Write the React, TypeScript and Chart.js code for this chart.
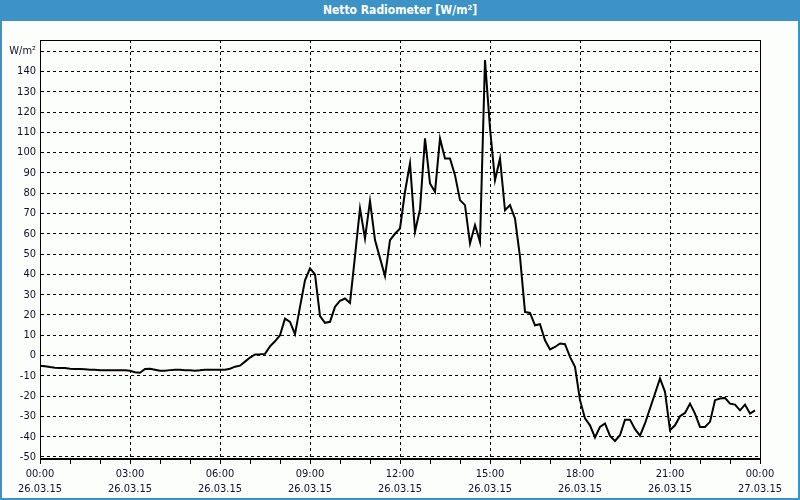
import React, { useEffect, useRef } from "react";
import { Chart, registerables } from "chart.js";

Chart.register(...registerables);

const chartTitle = "Netto Radiometer [W/m²]";
const unitLabel = "W/m²";

// one reading every 10 minutes, 00:00 .. 23:50 on 26.03.15
const stepMinutes = 10;
const radiation = [
  -5, -5.3, -5.7, -6, -6.2, -6.2, -6.5, -6.6, -6.7, -6.8, -7, -7,
  -7.2, -7.2, -7.2, -7.3, -7.3, -7.3, -7.5, -8.2, -8.5, -6.6, -6.5, -7,
  -7.5, -7.5, -7.2, -7, -7, -7.2, -7.3, -7.5, -7.3, -7, -7, -7,
  -7, -7, -6.5, -5.5, -5, -3, -1, 0.5, 0.6, 0.8, 4.5, 7,
  10, 18.2, 16.6, 10.5, 24, 37.1, 42.9, 40, 19.4, 16.1, 16.6, 24,
  27, 28.1, 25.9, 49, 72.5, 57.7, 76.2, 56.9, 48, 39.1, 56.9, 60,
  62.6, 80.7, 94.7, 61, 72, 107, 84.8, 80.7, 107, 97.1, 97.1, 88.9,
  76.6, 74.1, 55.2, 64.3, 56, 145.6, 112, 86.4, 97.1, 71.6, 74.1, 67.5,
  48.6, 21.5, 21, 14.9, 15.4, 7.5, 3, 4.2, 5.9, 5.6, -0.7, -5.6,
  -22, -31, -34.4, -40.4, -35.2, -33.5, -39.6, -42.1, -39.3, -31.6, -31.6, -36.3,
  -39.5, -33.5, -26.1, -18.7, -11.3, -17.9, -36.8, -34.4, -29.9, -28.3, -23.7, -28.6,
  -35.2, -35.2, -32.7, -22, -21.2, -20.9, -23.7, -24.2, -27, -24.2, -28.6, -27,
];

// x axis in minutes since 26.03.15 00:00
const xMin = 0;
const xMax = 1440;
const xMinorTicks = [0, 60, 120, 180, 240, 300, 360, 420, 480, 540, 600, 660, 720, 780, 840, 900, 960, 1020, 1080, 1140, 1200, 1260, 1320, 1380, 1440];
const xMajorTicks = [0, 180, 360, 540, 720, 900, 1080, 1260, 1440];
const xTimeLabels = ["00:00", "03:00", "06:00", "09:00", "12:00", "15:00", "18:00", "21:00", "00:00"];
const xDateLabels = ["26.03.15", "26.03.15", "26.03.15", "26.03.15", "26.03.15", "26.03.15", "26.03.15", "26.03.15", "27.03.15"];

const yMin = -51;
const yMax = 155.5;
const yTicks = [-50, -40, -30, -20, -10, 0, 10, 20, 30, 40, 50, 60, 70, 80, 90, 100, 110, 120, 130, 140, 150];

const FRAME_BLUE = "#3d93c5";
const TICK_FONT = { family: "'DejaVu Sans Condensed', 'DejaVu Sans', sans-serif", size: 11 };

const boxPlugin = {
  id: "plotBox",
  afterDraw(chart: any) {
    const { ctx, chartArea } = chart;
    const l = Math.round(chartArea.left) + 0.5;
    const t = Math.round(chartArea.top) + 0.5;
    const r = Math.round(chartArea.right) + 0.5;
    const b = Math.round(chartArea.bottom) - 0.5;
    ctx.save();
    ctx.strokeStyle = "#000";
    ctx.lineWidth = 1;
    ctx.setLineDash([]);
    ctx.strokeRect(l, t, r - l, b - t);
    ctx.restore();
  },
};

export default function App() {
  const canvasRef = useRef<HTMLCanvasElement | null>(null);

  useEffect(() => {
    if (!canvasRef.current) return;
    const points = radiation.map((v, i) => ({ x: i * stepMinutes, y: v }));
    const chart = new Chart(canvasRef.current, {
      type: "line",
      data: {
        datasets: [
          {
            data: points,
            borderColor: "#000",
            borderWidth: 2,
            pointRadius: 0,
            tension: 0,
            fill: false,
          },
        ],
      },
      options: {
        responsive: false,
        animation: false,
        events: [],
        layout: { padding: { left: 0, top: 40, right: 40, bottom: 0 } },
        plugins: {
          legend: { display: false },
          title: { display: false },
          tooltip: { enabled: false },
        },
        scales: {
          x: {
            type: "linear",
            min: xMin,
            max: xMax,
            afterBuildTicks: (scale: any) => {
              scale.ticks = xMinorTicks.map((v) => ({ value: v }));
            },
            afterFit: (scale: any) => {
              scale.height = 41;
            },
            grid: {
              color: (c: any) => (c.tick && xMajorTicks.includes(c.tick.value) ? "#000" : "rgba(0,0,0,0)"),
              tickColor: "#000",
              tickLength: 5,
              lineWidth: 1,
            },
            border: { display: true, color: "#000", width: 1, dash: [3, 3] },
            ticks: {
              autoSkip: false,
              maxRotation: 0,
              minRotation: 0,
              padding: 3,
              color: "#10102a",
              font: { ...TICK_FONT, lineHeight: 15 / 11 },
              callback: (value: any) => {
                const idx = xMajorTicks.indexOf(Number(value));
                if (idx < 0) return "";
                return [xTimeLabels[idx], xDateLabels[idx]];
              },
            },
          },
          y: {
            type: "linear",
            min: yMin,
            max: yMax,
            afterBuildTicks: (scale: any) => {
              scale.ticks = yTicks.map((v) => ({ value: v }));
            },
            afterFit: (scale: any) => {
              scale.width = 40;
            },
            grid: {
              color: "#000",
              drawTicks: false,
              lineWidth: 1,
            },
            border: { display: true, color: "#000", width: 1, dash: [3, 3] },
            ticks: {
              padding: 4,
              color: "#10102a",
              font: TICK_FONT,
              callback: (value: any) => (Number(value) === 150 ? unitLabel : String(value)),
            },
          },
        },
      },
      plugins: [boxPlugin],
    });
    return () => chart.destroy();
  }, []);

  return (
    <div
      style={{
        position: "fixed",
        left: 0,
        top: 0,
        width: 800,
        height: 500,
        boxSizing: "border-box",
        borderLeft: `2px solid ${FRAME_BLUE}`,
        borderRight: `2px solid ${FRAME_BLUE}`,
        borderBottom: `2px solid ${FRAME_BLUE}`,
        background: "#fcfefc",
        overflow: "hidden",
      }}
    >
      <div
        style={{
          position: "absolute",
          left: -2,
          top: 0,
          width: 800,
          height: 21,
          background: FRAME_BLUE,
          color: "#fff",
          fontFamily: "'Liberation Sans Narrow', 'DejaVu Sans Condensed', sans-serif",
          fontWeight: "bold",
          fontSize: 12,
          lineHeight: "20px",
          textAlign: "center",
        }}
      >
        {chartTitle}
      </div>
      <canvas
        ref={canvasRef}
        width={800}
        height={500}
        style={{ position: "absolute", left: -2, top: 0, width: 800, height: 500 }}
      />
    </div>
  );
}
